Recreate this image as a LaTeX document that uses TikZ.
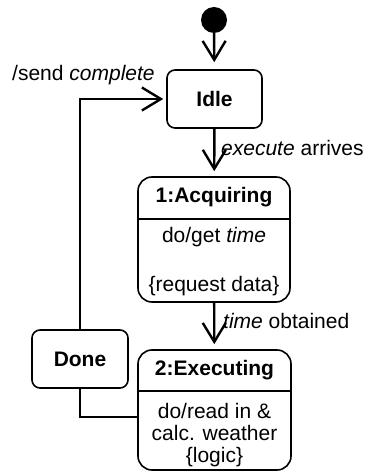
\documentclass[tikz,border=0pt]{standalone}
\usepackage{fontspec}
\setmainfont{Liberation Sans}
\usetikzlibrary{arrows.meta}
\begin{document}
\begin{tikzpicture}[x=1bp, y=-1bp,
  font=\fontsize{21bp}{22bp}\selectfont,
  state/.style={draw, line width=1.6bp, rounded corners=8bp, inner sep=0pt},
  title/.style={font=\fontsize{21bp}{22bp}\selectfont\bfseries, inner sep=0pt},
  txt/.style={inner sep=0pt},
  trans/.style={line width=2.4bp, -{Straight Barb[length=19bp,width=23bp]}},
  plain/.style={line width=1.6bp}]
\useasboundingbox (0,0) rectangle (371,476);

% initial pseudo-state
\node[circle, fill=black, minimum size=26bp, inner sep=0pt] (init) at (214,20) {};

% states
\node[state, minimum width=95bp, minimum height=58bp, title] (idle) at (214.5,99) {Idle};
\node[state, minimum width=152bp, minimum height=125bp, rounded corners=14bp] (acq) at (214,239.5) {};
\node[state, minimum width=153bp, minimum height=120bp, rounded corners=14bp] (exec) at (214.5,410) {};
\node[state, minimum width=96bp, minimum height=58bp, title] (done) at (80,359) {Done};

% compartments
\coordinate (acqsep) at (0,219);
\coordinate (execsep) at (0,391);
\draw[plain] (acq.west |- acqsep) -- (acq.east |- acqsep);
\draw[plain] (exec.west |- execsep) -- (exec.east |- execsep);

\node[title] (acqname) at (214,197) {1:Acquiring};
\node[txt] (acqdo) at (214,237) {do/get \textit{time}};
\node[txt] (acqnote) at (214,286) {\{request data\}};

\node[title] (execname) at (214.5,370) {2:Executing};
\node[txt, align=center] (execdo) at (214.5,435) {do/read in \&\\calc. weather\\\{logic\}};

% transitions
\draw[trans, shorten >=7bp] (init) -- (idle);
\draw[trans, shorten >=5bp] (idle) -- (acq);
\draw[trans, shorten >=5bp] (acq) -- (exec);
\coordinate (turn) at (80,417);
\draw[plain] (exec.west |- turn) -| (done.south);
\draw[trans, shorten >=3bp] (done.north) |- (idle.west);

% transition labels
\node[txt, anchor=west] (lsend) at (12,75) {/send \textit{complete}};
\node[txt, anchor=west] (lexec) at (221,148) {\textit{execute} arrives};
\node[txt, anchor=west] (ltime) at (223,321) {\textit{time} obtained};
\end{tikzpicture}
\end{document}
